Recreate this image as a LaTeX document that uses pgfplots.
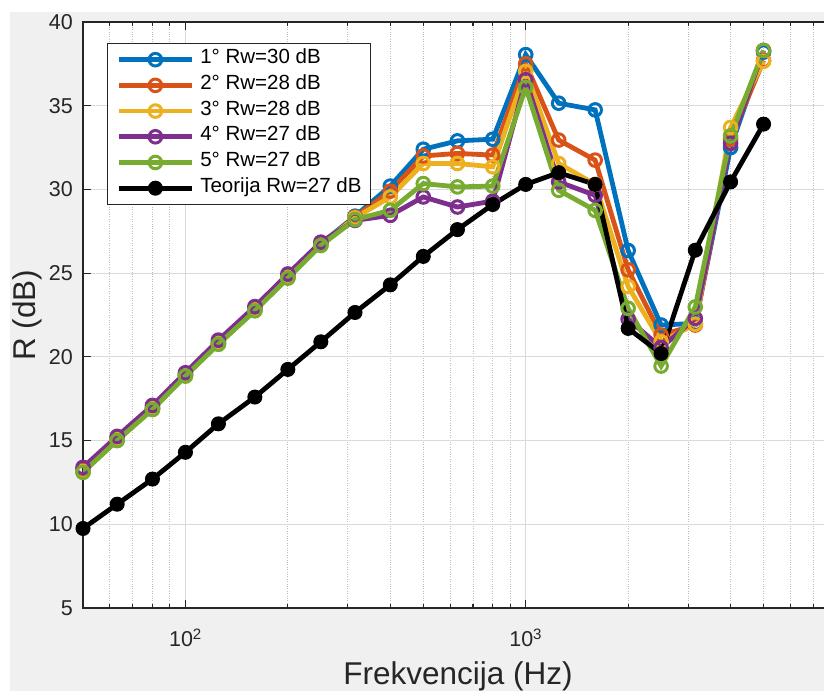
\documentclass[border=0pt]{standalone}
\usepackage{pgfplots}
\usepackage{pgfplotstable}
\pgfplotsset{compat=1.18}
\usepackage{fontspec}
\setmainfont{Liberation Sans}
\definecolor{mblue}{rgb}{0,0.447,0.741}
\definecolor{morange}{rgb}{0.850,0.325,0.098}
\definecolor{myellow}{rgb}{0.929,0.694,0.125}
\definecolor{mpurple}{rgb}{0.494,0.184,0.556}
\definecolor{mgreen}{rgb}{0.466,0.674,0.188}
\definecolor{bggray}{HTML}{F0F0F0}
\definecolor{axgray}{HTML}{262626}
\definecolor{gridgray}{HTML}{DADADA}
\definecolor{mingray}{HTML}{BDBDBD}

\pgfplotstableread{
f    s1    s2    s3    s4    s5    th
50   13.2  13.2  13.15 13.4  13.1  9.75
63   15.1  15.1  15.05 15.25 15.0  11.2
80   16.95 16.9  16.9  17.1  16.85 12.7
100  18.95 18.9  18.9  19.05 18.85 14.3
125  20.85 20.8  20.8  21.0  20.75 16.0
160  22.85 22.8  22.8  23.0  22.75 17.6
200  24.8  24.75 24.75 24.95 24.7  19.25
250  26.75 26.7  26.7  26.85 26.65 20.9
315  28.4  28.35 28.3  28.15 28.2  22.65
400  30.2  29.9  29.55 28.45 28.75 24.3
500  32.4  32.0  31.55 29.55 30.35 26.0
630  32.9  32.15 31.55 28.95 30.15 27.6
800  33.0  32.05 31.35 29.3  30.2  29.1
1000 38.05 37.5  37.05 36.55 36.1  30.3
1250 35.15 32.95 31.55 30.45 29.95 31.0
1600 34.75 31.75 30.3  29.65 28.75 30.3
2000 26.35 25.2  24.2  22.25 22.9  21.7
2500 21.9  21.3  20.9  20.55 19.45 20.2
3150 22.0  21.9  21.95 22.3  22.98 26.37
4000 32.5  33.0  33.7  32.75 33.2  30.45
5000 38.2  37.7  37.65 38.3  38.3  33.9
}\datatable

\pgfplotsset{
  mser/.style={#1, line width=4.8pt, mark=o, mark size=6.3pt, mark options={line width=3pt, solid}},
}

\begin{document}
\begin{tikzpicture}[x=1pt,y=1pt]
\useasboundingbox (0,0) rectangle (824,691);
\fill[white] (0,0) rectangle (824,691);
\fill[bggray] (10,0) rectangle (824,679);
\begin{axis}[
  at={(83pt,83pt)}, anchor=south west,
  scale only axis, width=750pt, height=586pt,
  xmode=log, xmin=50, xmax=8000, ymin=5, ymax=40,
  axis background/.style={fill=white},
  xtick={100,1000}, xticklabels={10\textsuperscript{2},10\textsuperscript{3}},
  minor xtick={60,70,80,90,200,300,400,500,600,700,800,900,2000,3000,4000,5000,6000,7000,8000},
  ytick={5,10,15,20,25,30,35,40},
  yticklabels={5,10,15,20,25,30,35,40},
  tick align=inside,
  major tick length=8pt, minor tick length=4pt,
  every tick/.style={axgray, line width=1.1pt},
  axis line style={axgray, line width=1.2pt},
  grid=both,
  major grid style={gridgray, line width=1pt},
  minor grid style={mingray, dotted, line width=0.9pt},
  xticklabel style={font=\fontsize{21.5}{24}\selectfont, text=axgray, anchor=base, inner sep=0pt, yshift=-38.7pt},
  yticklabel style={font=\fontsize{21.5}{24}\selectfont, text=axgray, anchor=east, inner sep=0pt, xshift=-10pt},
  xlabel={Frekvencija (Hz)},
  ylabel={R (dB)},
  xlabel style={font=\fontsize{31.5}{36}\selectfont, text=axgray, at={(axis description cs:0.5,-0.1297)}, anchor=base, inner sep=0pt},
  ylabel style={font=\fontsize{31.5}{36}\selectfont, text=axgray, at={(axis description cs:-0.0747,0.5)}, anchor=center, inner sep=0pt},
  legend style={at={(axis description cs:0.032,0.9647)}, anchor=north west,
    draw=axgray, line width=1pt, fill=white,
    font=\fontsize{20.5}{24}\selectfont, text=black,
    inner xsep=9pt, inner ysep=7pt,
    row sep=6.7pt, column sep=6pt,
    nodes={inner sep=0pt, text height=13.5pt, text depth=5.5pt}},
  legend cell align=left,
  legend image code/.code={\draw[mark repeat=2, mark phase=2, #1] plot coordinates {(0pt,0pt) (36.5pt,0pt) (73pt,0pt)};},
]
\addplot[mser=mblue] table[x=f, y=s1] {\datatable};
\addlegendentry{1° Rw=30 dB}
\addplot[mser=morange] table[x=f, y=s2] {\datatable};
\addlegendentry{2° Rw=28 dB}
\addplot[mser=myellow] table[x=f, y=s3] {\datatable};
\addlegendentry{3° Rw=28 dB}
\addplot[mser=mpurple] table[x=f, y=s4] {\datatable};
\addlegendentry{4° Rw=27 dB}
\addplot[mser=mgreen] table[x=f, y=s5] {\datatable};
\addlegendentry{5° Rw=27 dB}
\addplot[black, line width=4.8pt, mark=*, mark size=7pt, mark options={line width=1pt, solid}] table[x=f, y=th] {\datatable};
\addlegendentry{Teorija Rw=27 dB}
\end{axis}
\end{tikzpicture}
\end{document}
